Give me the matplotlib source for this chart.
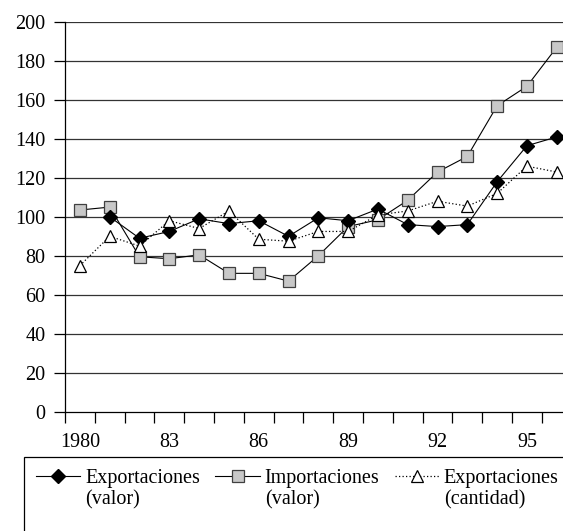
import numpy as np
import matplotlib
matplotlib.use("Agg")
import matplotlib.pyplot as plt
from matplotlib.lines import Line2D
from matplotlib.legend_handler import HandlerLine2D

years = list(range(1980, 1997))
export_valor = [np.nan, 100, 89, 92.5, 99, 96.5, 98, 90, 99.5, 98, 104, 96, 95, 96, 118, 136.5, 141]
import_valor = [103.5, 105, 79.5, 78.5, 80.5, 71, 71, 67, 80, 95, 98.5, 108.5, 123, 131, 157, 167, 187]
export_cant = [75, 90, 85, 98, 94, 103, 88.5, 87.5, 92.5, 92.5, 101, 103, 108, 105.5, 112, 126, 123]

tick_years = [1980, 1983, 1986, 1989, 1992, 1995]
tick_labels = ["1980", "83", "86", "89", "92", "95"]
y_ticks = list(range(0, 201, 20))
# trailing empty line: the legend box runs past the bottom edge, as in the source
labels = ["Exportaciones\n(valor)\n", "Importaciones\n(valor)\n", "Exportaciones\n(cantidad)\n"]

plt.rcParams['font.family'] = ['Liberation Serif', 'DejaVu Serif']
fs = 14.5

fig = plt.figure(figsize=(5.63, 5.31), dpi=100)
ax = fig.add_axes([0.1155, 0.2247, 0.8998, 0.7339])

# series (square under diamond under triangle)
l_imp, = ax.plot(years, import_valor, color='black', lw=0.8, marker='s', ms=8,
                 mfc='#c8c8c8', mec='#404040', mew=0.9, zorder=3)
l_exp, = ax.plot(years, export_valor, color='black', lw=0.8, marker='D', ms=7.0,
                 mfc='black', mec='black', zorder=4)
l_cant, = ax.plot(years, export_cant, color='black', lw=0.9, ls=(0, (1, 1.8)), marker='^', ms=8.5,
                  mfc='white', mec='black', mew=0.9, zorder=5)

ax.set_xlim(years[0] - 0.5, years[-1] + 0.5)
ax.set_ylim(0, 200)

ax.set_yticks(y_ticks)
ax.tick_params(axis='y', direction='out', length=8, width=0.9, pad=6, labelsize=fs)
for t in y_ticks[1:]:
    ax.axhline(t, color='#333333', lw=0.9, zorder=1)

# category axis: ticks between years, labels on years
ax.set_xticks(np.arange(years[0] - 0.5, years[-1] + 1, 1))
ax.set_xticklabels([])
ax.set_xticks(tick_years, minor=True)
ax.set_xticklabels(tick_labels, minor=True)
ax.tick_params(axis='x', which='major', direction='out', length=8, width=0.9)
ax.tick_params(axis='x', which='minor', length=0, pad=15, labelsize=fs)

for s in ['top', 'right']:
    ax.spines[s].set_visible(False)
ax.spines['left'].set_linewidth(0.9)
ax.spines['bottom'].set_linewidth(0.9)


class TopHandler(HandlerLine2D):
    def create_artists(self, legend, orig_handle, xdescent, ydescent, width, height, fontsize, trans):
        arts = super().create_artists(legend, orig_handle, xdescent, ydescent, width, height, fontsize, trans)
        for a in arts:
            a.set_ydata(np.asarray(a.get_ydata()) + 16.5)
        return arts


handles = [l_exp, l_imp, l_cant]
leg = fig.legend(handles, labels, loc='upper left', bbox_to_anchor=(24 / 563, 1 - 457 / 531),
                 bbox_transform=fig.transFigure, ncol=3, fontsize=fs, frameon=True,
                 fancybox=False, framealpha=1, edgecolor='black', borderaxespad=0,
                 borderpad=0.6, handlelength=2.2, handletextpad=0.25, columnspacing=0.75,
                 numpoints=1, handler_map={Line2D: TopHandler(numpoints=1)})
leg.get_frame().set_linewidth(0.9)
for t in leg.get_texts():
    t.set_linespacing(1.12)

fig.savefig('out.png', dpi=100)
